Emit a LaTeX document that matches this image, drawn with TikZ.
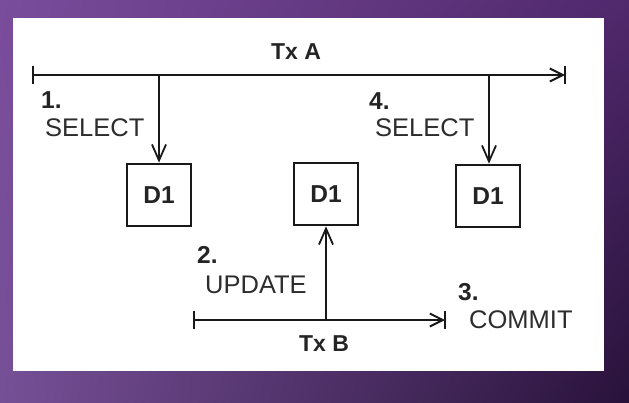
\documentclass[tikz,border=0pt]{standalone}
\usepackage{fontspec}
\setmainfont{Liberation Sans}
\usetikzlibrary{arrows.meta,shadings}
\definecolor{pTL}{RGB}{122,76,156}
\definecolor{pTR}{RGB}{80,40,108}
\definecolor{pBL}{RGB}{118,80,150}
\definecolor{pBR}{RGB}{40,18,58}
\definecolor{txt}{RGB}{45,45,45}
\tikzset{
  lbl/.style={anchor=west, inner sep=0pt, text=txt, font=\fontsize{25.5}{27}\selectfont},
  num/.style={anchor=west, inner sep=0pt, text=txt!80!black, font=\fontsize{24.5}{26}\selectfont\bfseries},
  tx/.style={inner sep=0pt, text=txt!80!black, font=\fontsize{23}{25}\selectfont\bfseries},
  dbox/.style={draw=black!90, line width=2.6pt, minimum width=64pt, minimum height=62pt, inner sep=0pt, text=txt!80!black, font=\fontsize{24.5}{26}\selectfont\bfseries},
  tline/.style={line width=2.2pt, draw=black!90, -{Straight Barb[length=13pt,width=13pt,line width=2pt]}},
  tick/.style={line width=2.4pt, draw=black!90},
  op/.style={line width=2pt, draw=black!90, -{Straight Barb[length=16pt,width=14pt,line width=1.8pt]}}
}
\begin{document}
\begin{tikzpicture}[x=1pt,y=-1pt]
\useasboundingbox (0,0) rectangle (629,402);
\shade[upper left=pTL, upper right=pTR, lower left=pBL, lower right=pBR] (0,0) rectangle (629,402);
\fill[white] (13,18) rectangle (604,371);

% Tx A
\node[tx] (txa) at (296,52) {Tx A};
\coordinate (a0) at (33,75);
\coordinate (a1) at (565,75);
\coordinate (s1) at (159,75);
\coordinate (s4) at (489,75);
\draw[tline] (a0) -- (a1);
\draw[tick] ([yshift=-9pt]a0) -- ([yshift=9pt]a0);
\draw[tick] ([yshift=-9pt]a1) -- ([yshift=9pt]a1);

% boxes
\node[dbox] (d1) at (159,195) {D1};
\node[dbox] (d2) at (326,194) {D1};
\node[dbox] (d3) at (488,196) {D1};

\draw[op] (s1) -- (d1.north -| s1);
\draw[op] (s4) -- (d3.north -| s4);

% Tx B
\coordinate (b0) at (194,320);
\coordinate (b1) at (445,320);
\coordinate (u2) at (326,320);
\draw[tline] (b0) -- (b1);
\draw[tick] ([yshift=-9pt]b0) -- ([yshift=9pt]b0);
\draw[tick] ([yshift=-9pt]b1) -- ([yshift=9pt]b1);
\draw[op] (u2) -- (d2.south -| u2);
\node[tx] (txb) at (324,344) {Tx B};

% labels
\node[num] (n1) at (41,100) {1.};
\node[lbl] (l1) at (45,128) {SELECT};
\node[num] (n4) at (369,101) {4.};
\node[lbl] (l4) at (375,128) {SELECT};
\node[num] (n2) at (197,255) {2.};
\node[lbl] (l2) at (205,285) {UPDATE};
\node[num] (n3) at (458,292) {3.};
\node[lbl] (l3) at (469,320) {COMMIT};
\end{tikzpicture}
\end{document}
